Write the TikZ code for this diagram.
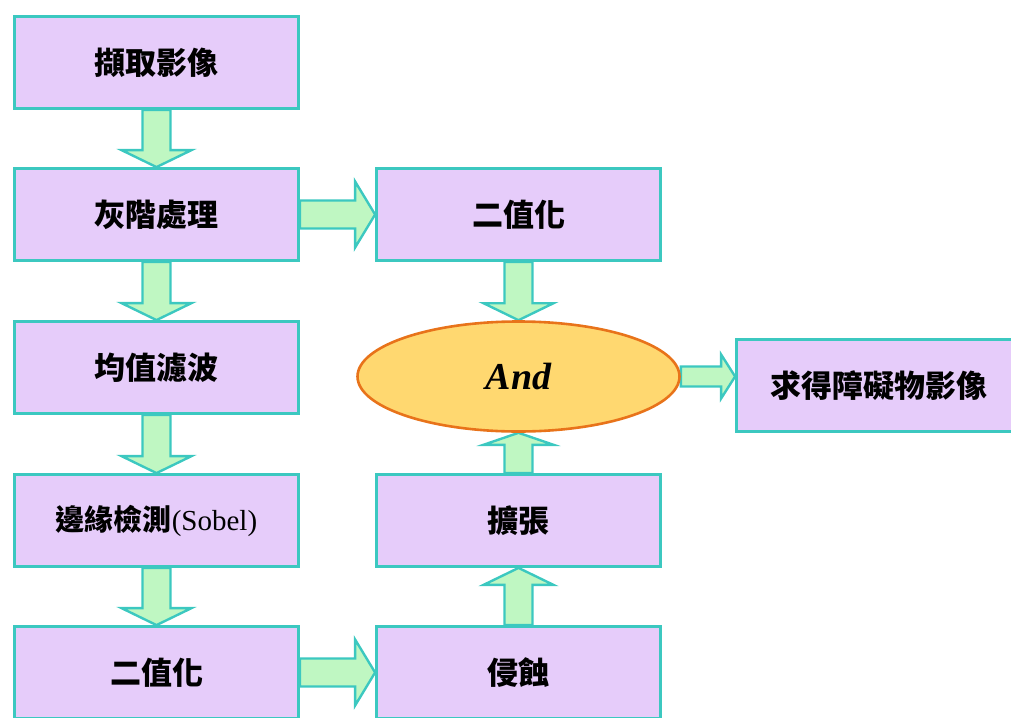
\documentclass[tikz,border=0pt]{standalone}
\usepackage{fontspec}
\setmainfont{Liberation Serif}
\newfontfamily\cjk{Noto Sans CJK TC}
\usetikzlibrary{shapes.geometric,calc,backgrounds}
\definecolor{boxfill}{HTML}{E6CCFA}
\definecolor{boxline}{HTML}{3CC8C0}
\definecolor{arrfill}{HTML}{BFF7C2}
\definecolor{ellfill}{HTML}{FFD870}
\definecolor{ellline}{HTML}{E8731A}
\tikzset{
  procbox/.style={rectangle, draw=boxline, fill=boxfill, line width=2.8pt,
    minimum width=284pt, minimum height=92pt, inner sep=0pt,
    font=\cjk\bfseries\fontsize{31}{34}\selectfont},
  andell/.style={ellipse, draw=ellline, fill=ellfill, line width=2.6pt,
    minimum width=322pt, minimum height=110pt, inner sep=0pt,
    font=\rmfamily\bfseries\itshape\fontsize{38}{40}\selectfont},
  blockarr/.style={draw=boxline, fill=arrfill, line width=2.4pt, line join=miter},
}
% #1 from, #2 to, #3 shaft half width, #4 head half width, #5 head length
\newcommand\blockarrow[5]{%
  \draw[blockarr] let \p1=(#1), \p2=(#2),
      \n1={atan2(\y2-\y1,\x2-\x1)}, \n2={veclen(\x2-\x1,\y2-\y1)} in
    [shift={(\p1)}, rotate=\n1]
    (0,-#3) -- ({\n2-#5},-#3) -- ({\n2-#5},-#4) -- (\n2,0) --
    ({\n2-#5},#4) -- ({\n2-#5},#3) -- (0,#3) -- cycle;}
\begin{document}
\begin{tikzpicture}[x=1pt,y=-1pt]
\useasboundingbox (0,0) rectangle (1011,717);
\clip (0,0) rectangle (1011,717);

\node[procbox] (cap)  at (156.5,62.5)  {擷取影像};
\node[procbox] (gray) at (156.5,214.5) {灰階處理};
\node[procbox] (mean) at (156.5,367.5) {均值濾波};
\node[procbox] (edge) at (156.5,520.5) {\fontsize{29}{32}\selectfont 邊緣檢測{\rmfamily\mdseries (Sobel)}};
\node[procbox] (binL) at (156.5,672.5) {二值化};

\node[procbox] (binM) at (518.5,214.5) {二值化};
\node[andell]  (and)  at (518.5,376.5) {And};
\node[procbox] (dil)  at (518.5,520.5) {擴張};
\node[procbox] (ero)  at (518.5,672.5) {侵蝕};

\node[procbox] (res)  at (878.5,385.5) {求得障礙物影像};

\begin{pgfonlayer}{background}
\blockarrow{cap.south}{gray.north}{14}{35}{17}
\blockarrow{gray.south}{mean.north}{14}{35}{17}
\blockarrow{mean.south}{edge.north}{14}{35}{17}
\blockarrow{edge.south}{binL.north}{14}{35}{17}
\blockarrow{gray.east}{binM.west}{14}{33}{20}
\blockarrow{binL.east}{ero.west}{14}{33}{20}
\blockarrow{binM.south}{and.north}{14}{35}{17}
\blockarrow{ero.north}{dil.south}{14}{35}{17}
\blockarrow{dil.north}{and.south}{14}{35}{12}
\blockarrow{and.east}{and.east -| res.west}{10}{22}{14}
\end{pgfonlayer}
\end{tikzpicture}
\end{document}
